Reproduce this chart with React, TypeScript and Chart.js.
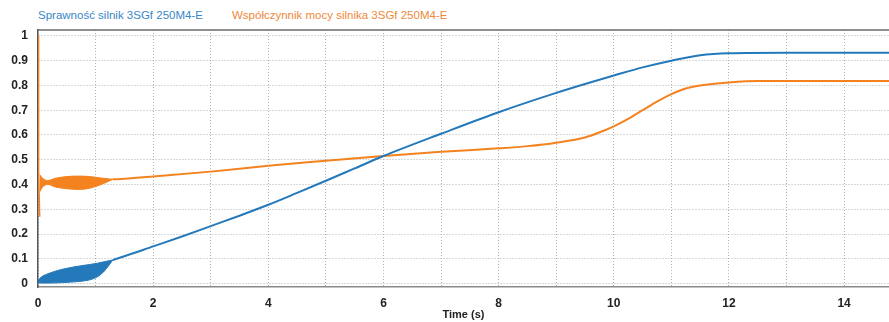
import React, { useEffect, useRef } from "react";
import { Chart, registerables } from "chart.js";

Chart.register(...registerables);

const LEGEND_BLUE = "Sprawność silnik 3SGf 250M4-E";
const LEGEND_ORANGE = "Współczynnik mocy silnika 3SGf 250M4-E";
const X_TITLE = "Time (s)";

const BLUE = "#2479bb";
const ORANGE = "#f3821f";

// Efficiency (blue) main curve
const blueT = [1.3, 1.5, 2, 2.5, 3, 3.5, 4, 4.5, 5, 5.5, 6, 7, 8, 9, 9.5, 10, 10.5, 11, 11.5, 12, 13, 14.78];
const blueV = [0.095, 0.11, 0.15, 0.19, 0.232, 0.274, 0.318, 0.366, 0.415, 0.465, 0.515, 0.605, 0.692, 0.77, 0.806, 0.84, 0.873, 0.9, 0.922, 0.93, 0.932, 0.932];
// Efficiency oscillation envelope
const blueBandT = [0, 0.05, 0.2, 0.43, 0.7, 0.9, 1.03, 1.15, 1.3];
const blueUpper = [0.012, 0.025, 0.042, 0.058, 0.07, 0.077, 0.082, 0.088, 0.095];
const blueLower = [0.003, 0.002, 0.002, 0.004, 0.008, 0.015, 0.027, 0.05, 0.095];

// Power factor (orange) initial spike
const orangeSpikeT = [0, 0.01, 0.03];
const orangeSpikeV = [1.0, 0.45, 0.27];
// Power factor oscillation envelope
const orangeBandT = [0.03, 0.08, 0.17, 0.3, 0.5, 0.7, 0.9, 1.1, 1.3];
const orangeUpper = [0.44, 0.425, 0.416, 0.425, 0.432, 0.434, 0.432, 0.426, 0.421];
const orangeLower = [0.37, 0.39, 0.4, 0.39, 0.383, 0.38, 0.385, 0.4, 0.421];
// Power factor main curve
const orangeT = [1.3, 1.5, 2, 3, 4, 5, 6, 7, 8, 8.5, 9, 9.5, 9.8, 10, 10.25, 10.5, 10.75, 11, 11.25, 11.5, 12, 12.5, 14.78];
const orangeV = [0.421, 0.423, 0.432, 0.452, 0.476, 0.496, 0.515, 0.532, 0.546, 0.555, 0.569, 0.59, 0.615, 0.635, 0.665, 0.7, 0.735, 0.765, 0.788, 0.8, 0.812, 0.818, 0.818];

const X_MIN = 0;
const X_MAX = 14.78;
const Y_MIN = -0.014;
const Y_MAX = 1.024;
const X_GRID = [0, 1, 2, 3, 4, 5, 6, 7, 8, 9, 10, 11, 12, 13, 14];
const X_LABELS = [0, 2, 4, 6, 8, 10, 12, 14];
const Y_TICKS = [0, 0.1, 0.2, 0.3, 0.4, 0.5, 0.6, 0.7, 0.8, 0.9, 1];

const pts = (t: number[], v: number[]) => t.map((x, i) => ({ x, y: v[i] }));

const FONT = "'Liberation Sans Narrow', 'Liberation Sans', Arial, sans-serif";

export default function App() {
  const ref = useRef<HTMLCanvasElement | null>(null);

  useEffect(() => {
    if (!ref.current) return;
    const frame = {
      id: "frame",
      afterDraw(chart: any) {
        const { ctx, chartArea } = chart;
        ctx.save();
        ctx.lineWidth = 1.5;
        ctx.strokeStyle = "#6a6a6a";
        ctx.beginPath();
        ctx.moveTo(chartArea.left, chartArea.top);
        ctx.lineTo(chartArea.right, chartArea.top);
        ctx.stroke();
        ctx.restore();
      },
    };
    const line = (data: any, color: string, w = 2, extra: any = {}) => ({
      data,
      borderColor: color,
      backgroundColor: color,
      borderWidth: w,
      pointRadius: 0,
      cubicInterpolationMode: "monotone",
      fill: false,
      ...extra,
    });
    const chart = new Chart(ref.current, {
      type: "line",
      data: {
        datasets: [
          line(pts(blueBandT, blueUpper), BLUE, 1),
          line(pts(blueBandT, blueLower), BLUE, 1, { fill: "-1" }),
          line(pts(blueT, blueV), BLUE, 2),
          line(pts(orangeSpikeT, orangeSpikeV), ORANGE, 1.5, { cubicInterpolationMode: "default", tension: 0 }),
          line(pts(orangeBandT, orangeUpper), ORANGE, 1),
          line(pts(orangeBandT, orangeLower), ORANGE, 1, { fill: "-1" }),
          line(pts(orangeT, orangeV), ORANGE, 2),
        ] as any,
      },
      options: {
        animation: false,
        responsive: true,
        maintainAspectRatio: false,
        layout: { padding: { top: 30, left: 0, right: 0, bottom: 0 } },
        plugins: { legend: { display: false }, tooltip: { enabled: false } },
        scales: {
          x: {
            type: "linear",
            min: X_MIN,
            max: X_MAX,
            afterBuildTicks: (s: any) => {
              s.ticks = X_GRID.map((v) => ({ value: v }));
            },
            afterFit: (s: any) => {
              s.height = 35;
            },
            ticks: {
              autoSkip: false,
              maxRotation: 0,
              padding: 9,
              color: "#222",
              font: { family: FONT, size: 12, weight: "bold" },
              callback: (v: any) => (X_LABELS.includes(Number(v)) ? String(v) : ""),
            },
            grid: { color: "#b0b0b0", lineWidth: 1, drawTicks: false },
            border: { display: true, color: "#8a8a8a", width: 1.5, dash: [1, 2] },
            title: {
              display: true,
              text: X_TITLE,
              color: "#222",
              font: { family: FONT, size: 11, weight: "bold" },
              padding: { top: 0, bottom: 0 },
            },
          },
          y: {
            type: "linear",
            min: Y_MIN,
            max: Y_MAX,
            afterBuildTicks: (s: any) => {
              s.ticks = Y_TICKS.map((v) => ({ value: v }));
            },
            afterFit: (s: any) => {
              s.width = 38;
            },
            ticks: {
              autoSkip: false,
              padding: 10,
              color: "#222",
              font: { family: FONT, size: 12, weight: "bold" },
              callback: (v: any) => String(v),
            },
            grid: { color: "#b0b0b0", lineWidth: 1, drawTicks: false },
            border: { display: true, color: "#555", width: 1.5, dash: [1, 2] },
          },
        },
      } as any,
      plugins: [frame],
    });
    return () => chart.destroy();
  }, []);

  const legendStyle: React.CSSProperties = {
    position: "absolute",
    top: 9,
    fontFamily: "'Liberation Sans', Arial, sans-serif",
    fontSize: 11.5,
    lineHeight: "13px",
    whiteSpace: "nowrap",
  };

  return (
    <div style={{ position: "absolute", left: 0, top: 0, width: 889, height: 322, background: "#fff" }}>
      <span style={{ ...legendStyle, left: 38, color: "#3a86c6" }}>{LEGEND_BLUE}</span>
      <span style={{ ...legendStyle, left: 232, color: "#f0883a" }}>{LEGEND_ORANGE}</span>
      <canvas ref={ref} style={{ position: "absolute", left: 0, top: 0, width: 889, height: 322 }} />
    </div>
  );
}
